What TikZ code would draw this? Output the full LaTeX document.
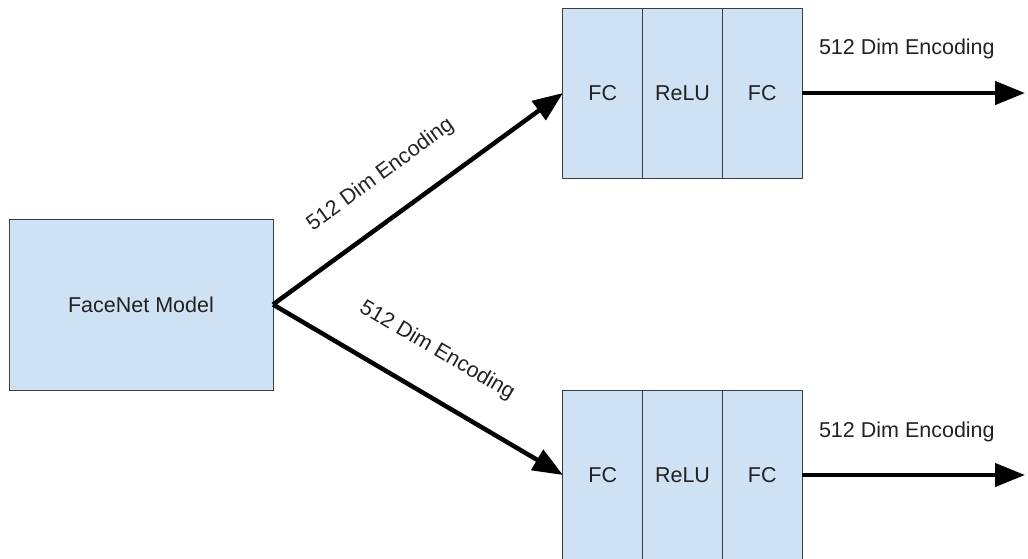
\documentclass[tikz,border=0pt]{standalone}
\usepackage{fontspec}
\setmainfont{Liberation Sans}
\usepackage{tikz}
\usetikzlibrary{arrows.meta}
\definecolor{boxfill}{HTML}{CFE2F3}
\definecolor{boxline}{HTML}{3A3F44}
\definecolor{inkgray}{HTML}{222222}

\begin{document}
\begin{tikzpicture}[x=1pt,y=-1pt,
    font=\fontsize{21.5}{26}\selectfont,text=inkgray,
    block/.style={draw=boxline,fill=boxfill,line width=1pt,rectangle,inner sep=0pt,outer sep=0pt,align=center},
    layer/.style={block,minimum width=79.7pt,minimum height=170pt},
    flow/.style={line width=4.5pt,-{Triangle[length=30pt,width=23pt]}},
    lbl/.style={inner sep=0pt,sloped}]
            \useasboundingbox (0,0) rectangle (1028,558);
            \node (n1) at (141,304.5)[block,minimum width=264pt,minimum height=171pt]{FaceNet Model};
            % upper head
            \node (n2) at (602.8,93)[layer]{FC};
            \node (n3) at (682.5,93)[layer]{ReLU};
            \node (n4) at (762.2,93)[layer]{FC};
            % lower head
            \node (n5) at (602.8,475)[layer]{FC};
            \node (n6) at (682.5,475)[layer]{ReLU};
            \node (n7) at (762.2,475)[layer]{FC};
            \coordinate (o1) at (1025,93);
            \coordinate (o2) at (1025,475);
            \draw [flow] (n1.east)--(n2.west) node[lbl,pos=0.455,above=29pt]{512 Dim Encoding};
            \draw [flow] (n1.east)--(n5.west) node[lbl,pos=0.49,above=31pt]{512 Dim Encoding};
            \draw [flow] (n4.east)--(o1) node[lbl,pos=0.47,above=32pt]{512 Dim Encoding};
            \draw [flow] (n7.east)--(o2) node[lbl,pos=0.47,above=31pt]{512 Dim Encoding};
        \end{tikzpicture}
\end{document}
